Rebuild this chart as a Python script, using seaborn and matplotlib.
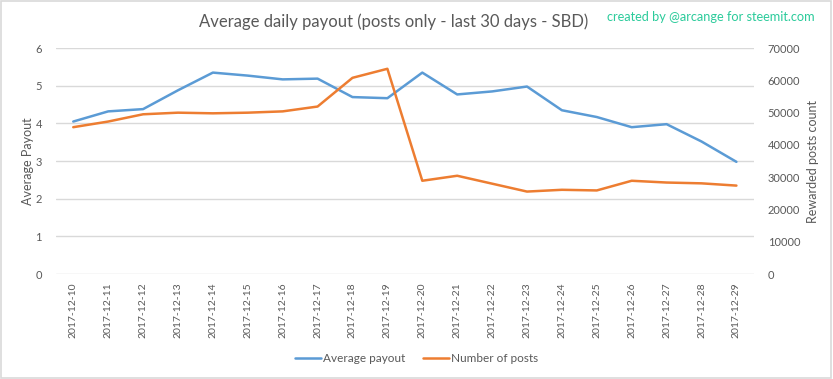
import matplotlib
matplotlib.use("Agg")
import matplotlib.pyplot as plt
import seaborn as sns
import pandas as pd
import numpy as np

dates = ["2017-12-10", "2017-12-11", "2017-12-12", "2017-12-13", "2017-12-14",
         "2017-12-15", "2017-12-16", "2017-12-17", "2017-12-18", "2017-12-19",
         "2017-12-20", "2017-12-21", "2017-12-22", "2017-12-23", "2017-12-24",
         "2017-12-25", "2017-12-26", "2017-12-27", "2017-12-28", "2017-12-29"]
avg_payout = [4.05, 4.32, 4.38, 4.88, 5.35, 5.27, 5.17, 5.19, 4.70, 4.67,
              5.35, 4.77, 4.85, 4.98, 4.35, 4.17, 3.90, 3.98, 3.52, 2.98]
num_posts = [45500, 47250, 49500, 50000, 49800, 50000, 50400, 51900, 60800, 63600,
             28900, 30450, 28000, 25550, 26100, 25900, 28900, 28350, 28100, 27400]
left_ticks = [0, 1, 2, 3, 4, 5, 6]
right_ticks = [0, 10000, 20000, 30000, 40000, 50000, 60000, 70000]

sns.set_theme(style="white")
plt.rcParams['font.family'] = ['Lato', 'DejaVu Sans']

BLUE = "#5B9BD5"
ORANGE = "#ED7D31"
TXT = "#595959"
GRID = "#D9D9D9"

df = pd.DataFrame({"pos": np.arange(len(dates)), "date": dates,
                   "payout": avg_payout, "posts": num_posts})

fig = plt.figure(figsize=(8.33, 3.79), dpi=100)
ax = fig.add_axes([0.067, 0.277, 0.838, 0.596])
ax2 = ax.twinx()

sns.lineplot(data=df, x="pos", y="payout", ax=ax, color=BLUE, linewidth=1.8,
             label="Average payout", legend=False)
sns.lineplot(data=df, x="pos", y="posts", ax=ax2, color=ORANGE, linewidth=1.8,
             label="Number of posts", legend=False)

ax.set_xlim(-0.5, len(dates) - 0.5)
ax.set_ylim(0, 6)
ax2.set_ylim(0, 70000)
ax.set_yticks(left_ticks)
ax2.set_yticks(right_ticks)
ax.set_xticks(df["pos"])
ax.set_xticklabels(dates, rotation=90, fontsize=7.5, color=TXT)
ax.tick_params(axis="y", labelsize=8, colors=TXT, length=0, pad=10)
ax.tick_params(axis="x", length=0, pad=6)
ax2.tick_params(axis="y", labelsize=8, colors=TXT, length=0, pad=10)
for lab in ax.get_yticklabels() + ax2.get_yticklabels():
    lab.set_color(TXT)

ax.grid(axis="y", color=GRID, linewidth=1)
ax.set_axisbelow(True)
for a in (ax, ax2):
    for s in a.spines.values():
        s.set_visible(False)

ax.set_xlabel("")
ax.set_ylabel("Average Payout", fontsize=9, color=TXT, labelpad=1)
ax2.set_ylabel("Rewarded posts count", fontsize=9, color=TXT, labelpad=5)

fig.text(0.472, 0.942, "Average daily payout (posts only - last 30 days - SBD)",
         ha="center", va="center", fontsize=12, color=TXT)
fig.text(0.978, 0.955, "created by @arcange for steemit.com", ha="right",
         va="center", fontsize=9.2, color="#2BCB9B")

h1, l1 = ax.get_legend_handles_labels()
h2, l2 = ax2.get_legend_handles_labels()
fig.legend(h1 + h2, l1 + l2, loc="center", bbox_to_anchor=(0.50, 0.055),
           ncol=2, frameon=False, fontsize=8.5, handlelength=2.2,
           handletextpad=0.2, columnspacing=1.5, labelcolor=TXT)

border = plt.Rectangle((0.001, 0.002), 0.997, 0.995, transform=fig.transFigure,
                       fill=False, edgecolor=GRID, linewidth=1.2)
fig.patches.append(border)

fig.savefig("out.png", dpi=100, facecolor="white")
